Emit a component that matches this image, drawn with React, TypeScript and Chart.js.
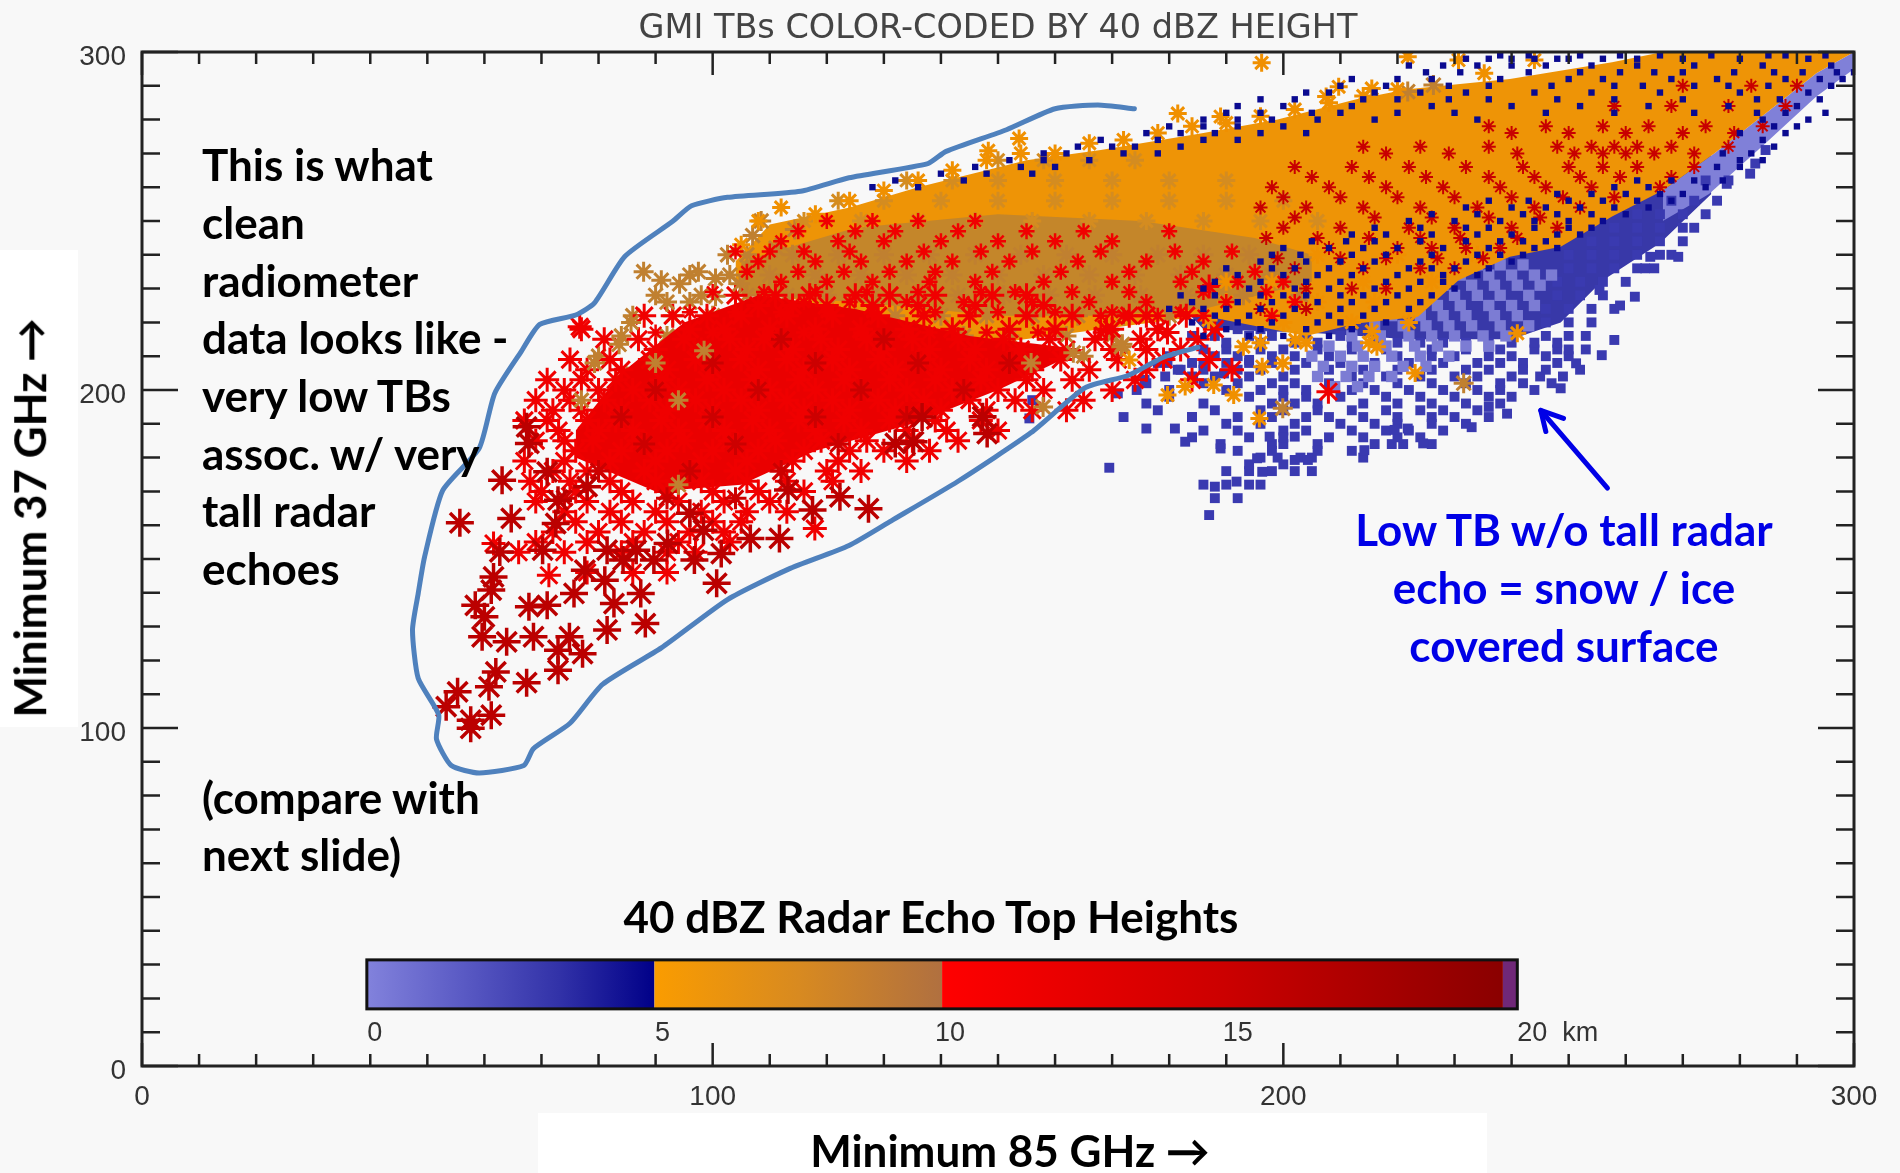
import React, { useEffect, useRef } from "react";
import { Chart, registerables } from "chart.js";

Chart.register(...registerables);

// ---- axis values (brightness temperatures, K) ----
const xTicksMajor = [0, 100, 200, 300];
const axisMin = 0;
const axisMax = 300;
const axisStep = 10;

// ---- hand outline round the clean radiometer points [85 GHz, 37 GHz] ----
const outline = [[173.9,283.2],[167.5,284.3],[160,283.2],[151.5,277],[140.9,270.6],[137.7,267],[123.9,262.8],[115.4,258.8],[102.6,257],[96.3,254.5],[93,249.9],[84.6,239.5],[79.3,225.8],[76,222.2],[69.7,219.4],[66.5,211.5],[61.8,199],[59.1,182.8],[52.7,170.3],[49.5,150.5],[48.4,139.8],[47.4,129],[48.4,114.7],[52,103.9],[51.6,96.7],[54.2,88.9],[59.1,86.7],[66.9,88.9],[68.6,93.9],[75,101.4],[80.7,112.9],[91,123.7],[102.6,138],[113.3,147],[123.9,154],[131.3,161.3],[143,173],[155.8,187.4],[165.3,200.7],[172.8,204.3],[179,209.7],[185,212.6]];
const arrowShaft = [[256.8,171],[245.1,194]];
const arrowHead = [[249.1,191.6],[245.1,194],[246,187.7]];

// ---- dense regions, as upper and lower edges [85 GHz, 37 GHz] ----
const blueUpper = [[182,232],[204,240],[224,250],[240,262],[258,270],[275,282]];
const blueLower = [[182,225],[186,218],[204,217],[222,215],[240,215],[248.6,220],[256,232.5],[266,243.4],[275,258]];
const lightUpper = [[266.5,259],[275.5,270],[284.5,281.8],[293.4,293.7],[300,300]];
const lightLower = [[266.5,250],[274.6,258],[284.5,273],[293.4,286.8],[300,295]];
const orangeUpper = [[104,238],[110,249],[124,254],[136,260],[155,268],[168,271],[186,276],[199,280],[212.8,286],[221.8,289],[239.7,292],[257.6,297],[266.5,300],[300,300]];
const orangeLower = [[104,232],[124,222],[150,214],[168,218],[186,222],[204,216],[212.8,219.7],[223.6,221.7],[230.7,232.5],[239.7,239.4],[248.6,242.4],[257.6,251.3],[266.5,259],[275.5,270],[284.5,281.8],[293.4,293.7],[300,300]];
const brownUpper = [[105,238],[125,248],[150,252],[175,250],[195,245],[205,240]];
const brownLower = [[105,228],[125,226],[150,222],[168,222],[186,224],[205,232]];
const redUpper = [[76,188],[84,205],[95,220],[108,228],[125,224],[145,216],[165,212]];
const redLower = [[76,180],[90,170],[105,172],[118,182],[135,190],[150,200],[165,212]];

// ---- rows of points: [37 GHz, then the 85 GHz values on that row] ----
const lightBlueRows = [
  [237,234,238,242],[234,231,236,240,244,247],[231,228,233,237,241,245],[228,226,230,234,238,243],
  [225,223,227,231,236,240,244],[222,219,224,228,232,237,241],[219,216,221,225,229,233,238,243],
  [216,212,217,222,226,230,235,239],[213,208,213,218,223,227,232,236],[210,205,210,214,219,224,229],
  [207,207,212,216,221,225],[204,206,211,215,219],[201,209,213],
];
const blueRows = [
  [218,188,192,196],
  [212,186,190,196,200,206,212,218,226,232,238,244,248],
  [208,178,184,190,194,198,204,210,216,222,228,234,238,242,248],
  [204,184,188,194,200,206,212,218,224,230,234,240,245,249],
  [200,180,190,196,200,204,212,216,222,228,234,238,244],
  [196,176,186,198,202,206,214,220,226,232,238],
  [192,172,184,192,198,204,208,214,220,226,230,236],
  [188,186,192,200,204,212,218,222,228],
  [184,189,198,200,206,216,219,221,226],
  [180,196,199,203,205,214],
  [176,190,194,198,202,205],
  [172,186,190,194,196],
  [168,188,192],
  [163,187],
  [216,184,188,194,198,204,210],
  [214,190,196,202,206,212,216,220,224,228,232,236,240,244,248],
  [210,180,188,192,198,202,208,214,220,226,230,236,240,246,250],
  [206,182,186,192,196,202,208,214,220,226,232,236,242,246,252],
  [202,176,186,192,198,202,208,214,220,226,232,238,242,247],
  [198,180,194,200,204,210,218,224,230,236,240],
  [194,178,188,196,200,206,212,218,224,228,234],
  [190,190,196,202,210,216,220,226,232],
  [186,184,194,200,208,214,220,224],
  [182,192,198,206,212],
  [178,194,200],
  [262,274,278],[256,268,272,276],[252,262,266,270,274],[248,258,262,266,270,272],[244,254,258,262,266,270],
  [240,250,254,258,262,266,268],[236,250,254,258,262,265],[232,248,252,256,260],[228,248,252,256],
  [224,246,250,254,258],[220,246,250,254],[216,246,250,253],[212,250,253],
];
const bluePairs = [[169.5,177],[176,188.6],[181,188.6],[184,192],[189,182.7],[188,171.4],[191.8,172.9],[196.3,175.8],[202,179.3],[204.3,179.3],[195.4,179.8],[182.8,184.7],[197.6,186.2],[202,186.2],[214.2,182.2],[224.5,184.2],[219.5,188.2],[221.8,188.6],[233,189],[239.2,193],[236,195],[258,214.8],[255.8,210.3],[251.3,207.9],[248.6,200.5],[269.2,239.4],[263.4,236],[261.6,227.6],[259,225],[264.3,239.4],[277.7,261],[281.8,264],[282.7,267],[284.5,271],[255.4,229.6],[171,199],[174.3,200],[175.7,203],[179.3,204],[181.5,206],[184.2,203.4],[179.7,208],[186,208],[189.6,204.9],[194,208.9],[156,197],[155.5,191.6]];
const navyRows = [
  [298,232,236,240,244,248,250,256,262,270,280,292],
  [296,222,228,234,240,246,254,262,272,284,296],
  [292,212,220,226,238,250,256,268,276,288,294,298],
  [288,204,208,216,224,232,244,254,266,280,292],
  [284,192,200,212,226,240,252,264,278,290],
  [280,186,192,198,206,216,234,284,292],
  [276,176,182,188,196,204,280,288],
  [272,164,170,174,182,286],
  [268,152,158,166,280,284],
  [264,140,148,156],
  [260,128,136],
  [262,262,268,272],
  [258,248,254,260,266,270],
  [254,232,240,246,252,258,264],
  [250,222,230,238,244,250,256],
  [246,212,218,226,234,240,248,252],
  [242,200,208,214,220,228,236,244,248],
  [238,196,204,210,216,224,232,240],
  [234,192,200,206,212,220,228,234],
  [230,186,194,202,208,216,222,230],
  [226,184,192,198,206,212,218,224],
  [222,188,194,200,208,214],
  [218,190,196,204,212],
  [299,238,243,252,259,266,275,285,288,295],
  [294,225,231,243,252,259,265,270,279,286,291,297,300],
  [290,210,218,229,236,247,258,263,272,278,285,296],
  [286,196,202,214,220,229,236,248,258,270,283,287,294],
  [282,190,196,205,210,220,230,246,258,272,283,288,295],
  [278,180,186,192,200,286,290],
  [274,168,178,186,192,284],
  [270,158,162,172,178,277,282],
  [266,146,154,160,276,280],
  [262,132,144,277],
  [260,258,264,274],
  [256,236,243,250,256,262,268],
  [252,226,234,242,248,254,260],
  [248,216,224,232,236,244,250,254],
  [244,205,211,216,224,232,238,242,246],
  [240,198,203,212,218,226,234,238,242],
  [236,190,198,202,208,214,222,226,230,236],
  [232,188,196,204,210,218,224,228],
  [228,182,188,196,200,204,210,214,220,226],
  [224,180,186,190,196,202,210,216,222],
  [220,184,192,198,206,210,218],
  [216,186,194,200,208],
];
const redRows = [
  [225,108,114,120,128,136,146,158],
  [218,77,96,102,110,118,126,134,142,152,160,170,178,188],
  [212,90,98,106,114,122,130,138,146,154,162,170,182,176],
  [206,78,84,92,100,108,116,124,132,140,148,156,166,176,191],
  [200,74,80,86,94,102,110,118,126,134,142,150,158,170],
  [194,72,77,84,92,100,108,116,124,132,140,148,156,162],
  [188,73,80,86,94,102,110,118,126,134,141,150],
  [182,76,84,92,100,108,116,124,130,138],
  [176,72,78,88,96,104,112,120,126],
  [170,70,76,84,92,100,108,116],
  [164,74,82,90,98,106,113],
  [158,72,80,88,96,102],
  [152,66,74,84,92,97],
  [146,78,86,92],
  [228,104,111,117,125,131,139,149,155],
  [222,88,93,99,105,113,121,129,137,145,155,163,173,183],
  [215,81,87,95,103,109,119,127,135,143,151,159,167,175,185],
  [209,75,82,89,97,105,113,121,129,137,145,153,161,171,179,187],
  [203,71,77,83,91,99,107,115,123,131,139,147,155,163,174,184],
  [197,69,75,81,89,97,105,113,121,129,137,145,153,165],
  [191,67,71,78,83,91,99,107,115,123,131,139,147],
  [185,69,74,79,87,95,103,111,119,127,135,143],
  [179,67,74,82,90,98,106,114,122,134],
  [173,68,75,82,90,98,106,113,121],
  [167,69,78,86,94,102,110],
  [161,76,84,92,100,105],
  [155,69,78,86,94,103],
];
const redPairs = [[76.7,218.7],[61.6,154.6],[71.3,145.2],[117.9,159],[176,222],[179.7,217],[187,230.6],[169,218],[207.9,199.5]];
const midRedRows = [[215,112,130],[208,100,118,136,152],[200,90,108,126,144],[192,84,100,118,134],[184,88,104,122],[176,80,96,112],[168,74,92,104]];
const darkRedPairs = [[55.7,160.7],[63.1,173.3],[64.7,162],[67.8,184.2],[67.4,189.1],[62.7,152.1],[70.2,152.6],[71,175.8],[72.9,167.4],[72.5,160.5],[78,171.4],[81.5,152.6],[84.3,149.7],[86.6,152.6],[77.6,146.7],[61.6,144.7],[61.2,140.8],[58.4,136.3],[60,132.9],[59.6,127],[63.9,125.5],[67.8,135.9],[71,136.3],[68.6,127],[74.9,127],[75.7,139.8],[81.1,143.7],[82.7,136.8],[81.5,129],[87.4,139.8],[88.2,130.9],[72.9,123],[77.2,122],[72.9,117.1],[62,116.6],[60.8,112.2],[67.4,113.4],[55.3,110.7],[53.3,106.3],[61.2,103.8],[57.6,99.9],[57.6,102.3],[100.7,142.8],[101.5,151.6],[106.6,156.1],[111.7,156.1],[96.8,149.7],[92.1,154.6],[96,163.5],[98.4,158.5],[89.7,149.7],[127.3,164.9],[117.5,164.5],[122.3,168.4],[113.2,170.4],[132,184.2],[135.2,184.7],[148.1,187.1],[147.3,192.1],[136.7,192]];
const brownPairs = [[100.5,233],[79.3,208],[83.6,213.5],[87.9,235],[94.2,231.4],[85.7,220],[102.6,240],[97.5,235],[91,232.5],[107,245.7],[108.5,250],[92,226],[96,226],[100.5,227.7],[104.8,231.4],[111.1,242],[114.4,247.5],[155.8,208],[157.9,195],[171.8,213.5],[163.2,211],[77,197],[90,208],[94,197],[98.5,211.6],[94,172],[171.6,212.8],[199.9,194.6],[231.6,202],[226.3,290.2],[221.8,288.3]];
const brownRows = [
  [240,106,114,122,130,138,146,154,162,170,178,186,194],
  [234,96,103,110,118,126,134,142,150,158,166,174,182,190,198],
  [228,90,98,106,113,120,128,136,143,151,159,167,175,183,193,203],
  [222,86,93,100,108,116,124,132,140,148,156,164,172,180],
  [216,84,92,102,112,122,132,144,152,162,170],
  [210,80,95,108,128,150,165],
  [204,85,115,145],
];
const tanRows = [
  [268,150,158,166,174],[262,134,142,150,160,170,180,190],[256,122,130,140,150,160,170,180,190,200],
  [250,116,126,136,146,156,166,176,186,196,206],
];
const orangePairs = [[196.2,296.8],[148.3,270.8],[153.7,274.4],[181.5,281.8],[189,280.9],[207.5,286.8],[209.7,289.7],[215.5,289.2],[221.8,298.6],[230.7,297.6],[244,297.6],[235.2,293.7],[186.9,220.7],[173,208.9],[179.7,198.5],[182.8,201],[187.8,201.5],[191.3,198.5],[196.3,206.9],[195.8,191.6],[199.9,207.9],[202.1,214.8],[215.5,217.3],[193,212.8],[223.1,205],[241,216.8],[216.4,212.8],[105,243],[108,250],[112,254],[118,252],[124,256],[130,259],[136,262],[142,265],[148,268],[154,270],[160,270],[166,273],[172,274],[178,276],[184,278],[190,279],[196,281],[202,283],[208,285],[214,287],[220,289]];
const orangeRows = [[240,206,220,234],[232,190,198,214,226],[226,190,206,216],[220,200,212,222],[214,196,204,215]];
const redSpeckRows = [
  [250,120,128,136,146],[244,112,122,130,140,150,160,170],[238,108,118,126,134,142,152,164,176,186],
  [232,112,120,128,138,146,158,170,182,192,200],[226,116,124,134,144,156,166,176,190,202],[222,168,172,178,186,198],
  [247,115,125,132,143,155,165,180],[241,104,110,116,124,137,147,156,168,181,191],[235,106,115,123,131,139,149,161,173,184,195],
  [229,100,109,118,127,136,147,153,163,173,186,197],[223,96,104,112,120,128,139,150,160,170,182],
  [217,90,100,110,116,126,138,148,157,168],
];
const darkSpeckRows = [
  [290,270,282,290],[284,258,268,278,288],[278,236,246,256,264,274,284],[272,214,224,236,248,254,258,262,268,278],
  [266,202,212,222,232,242,250,256,262,272],[260,198,208,218,228,238,246,254,266],[254,196,204,214,224,234,244,252],
  [248,200,210,222,230,240,248],[242,208,220,226,232,238],[236,202,214,224,230],[230,204,212,218],[224,196,204],
  [276,240,250,260,270,279],[270,218,229,241,251,256,260,265,272],[263,205,215,225,236,244,252,259,268],
  [257,200,210,220,230,240,249,258],[251,202,216,226,236,245],[245,197,206,215,224,231,241],[239,199,210,218,227,235],
];

// ---- colour bar ----
const barKmStart = 0;
const barKmEnd = 20;
const barKmLabels = ["0", "5", "10", "15"];
const barLastLabel = "20  km";

// ---- text ----
const leftNote = ["This is what", "clean", "radiometer", "data looks like -", "very low TBs", "assoc. w/ very", "tall radar", "echoes"];
const leftNote2 = ["(compare with", "next slide)"];
const blueNote = ["Low TB w/o tall radar", "echo = snow / ice", "covered surface"];
const titleText = "GMI TBs COLOR-CODED BY 40 dBZ HEIGHT";

const toXY = (a: number[][]) => a.map(([x, y]) => ({ x, y }));
const rowsXY = (rows: number[][]) => rows.flatMap(([y, ...xs]) => xs.map((x) => ({ x, y })));

const LAB = "Lato, 'Open Sans', sans-serif";

const band = (label: string, up: number[][], low: number[][], color: string) => [
  { label, data: toXY(up), showLine: true, fill: "+1", backgroundColor: color, borderWidth: 0, pointRadius: 0, borderColor: "transparent" },
  { label: label + " edge", data: toXY(low), showLine: true, fill: false, borderWidth: 0, pointRadius: 0, borderColor: "transparent" },
];
const squares = (label: string, data: any[], color: string, r: number) => ({
  label, data, pointStyle: "rect", pointRadius: r, pointBorderWidth: 0, pointBackgroundColor: color, pointBorderColor: color, showLine: false,
});
const stars = (label: string, data: any[], color: string, r: number, w: number) => ({
  label, data, pointStyle: "star", pointRadius: r, pointBorderWidth: w, pointBackgroundColor: color, pointBorderColor: color, showLine: false,
});
const stroke = (label: string, data: number[][], color: string, w: number, tension = 0) => ({
  label, data: toXY(data), showLine: true, fill: false, borderColor: color, borderWidth: w, pointRadius: 0, tension, borderJoinStyle: "round", borderCapStyle: "round",
});

const frame = {
  id: "frame",
  afterDraw(chart: any) {
    const { ctx, chartArea: a, scales } = chart;
    const X = scales.x, Y = scales.y;
    ctx.save();
    ctx.strokeStyle = "#222";
    ctx.lineWidth = 3;
    ctx.strokeRect(a.left, a.top, a.right - a.left, a.bottom - a.top);
    ctx.lineWidth = 2.5;
    ctx.beginPath();
    X.ticks.forEach((t: any) => {
      const p = X.getPixelForValue(t.value);
      const len = xTicksMajor.includes(t.value) ? 23 : 12;
      ctx.moveTo(p, a.bottom); ctx.lineTo(p, a.bottom - len);
      ctx.moveTo(p, a.top); ctx.lineTo(p, a.top + len);
    });
    Y.ticks.forEach((t: any) => {
      const p = Y.getPixelForValue(t.value);
      const len = xTicksMajor.includes(t.value) ? 36 : 18;
      ctx.moveTo(a.left, p); ctx.lineTo(a.left + len, p);
      ctx.moveTo(a.right, p); ctx.lineTo(a.right - len, p);
    });
    ctx.stroke();

    // colour bar: km scale laid onto the x scale, as in the figure
    const kmToPx = (km: number) => X.getPixelForValue(39.4 + km * 10.08);
    const top = Y.getPixelForValue(31.4), bot = Y.getPixelForValue(16.9);
    const grad = (k0: number, k1: number, stops: string[]) => {
      const g = ctx.createLinearGradient(kmToPx(k0), 0, kmToPx(k1), 0);
      stops.forEach((c, i) => g.addColorStop(i / (stops.length - 1), c));
      ctx.fillStyle = g;
      ctx.fillRect(kmToPx(k0), top, kmToPx(k1) - kmToPx(k0), bot - top);
    };
    grad(barKmStart, 5, ["#8282dc", "#5a5ac4", "#3232a8", "#000088"]);
    grad(5, 10, ["#fa9c00", "#d88a20", "#b07040"]);
    grad(10, 19.75, ["#ff0000", "#cc0000", "#8a0000"]);
    grad(19.75, barKmEnd, ["#702878", "#702878"]);
    ctx.strokeStyle = "#111";
    ctx.lineWidth = 3;
    ctx.strokeRect(kmToPx(barKmStart), top, kmToPx(barKmEnd) - kmToPx(barKmStart), bot - top);
    ctx.fillStyle = "#333";
    ctx.font = "27px 'Liberation Sans'";
    ctx.textAlign = "center";
    ctx.textBaseline = "middle";
    barKmLabels.forEach((l, i) => ctx.fillText(l, kmToPx(i * 5) + 8, 1034));
    ctx.textAlign = "left";
    ctx.fillText(barLastLabel, kmToPx(barKmEnd), 1034);
    ctx.restore();
  },
};

const textLine = (s: string, left: number, cy: number, color = "#000", size = 44): React.CSSProperties => ({
  position: "absolute", left, top: cy - size * 0.7, font: `700 ${size}px/${size * 1.4}px ${LAB}`, color, whiteSpace: "pre",
});

export default function App() {
  const ref = useRef<HTMLCanvasElement>(null);
  useEffect(() => {
    document.body.style.margin = "0";
    const datasets: any[] = [
      ...band("Snow / ice region", blueUpper, blueLower, "#3838a8"),
      ...band("Edge strip", lightUpper, lightLower, "#8080d8"),
      squares("2-4 km echo tops", [...rowsXY(blueRows), ...toXY(bluePairs)], "#3a3ab0", 7),
      squares("0-2 km echo tops", rowsXY(lightBlueRows), "#7c7cd4", 8),
      ...band("5-8 km echo tops", orangeUpper, orangeLower, "#ee9406"),
      ...band("8-10 km echo tops", brownUpper, brownLower, "#c4862a"),
      stars("8-10 km dense stars", rowsXY(brownRows), "#c08030", 10, 3),
      ...band("10-12 km echo tops", redUpper, redLower, "#ea0000"),
      stars("10-14 km echo tops", [...rowsXY(redRows), ...toXY(redPairs)], "#f00000", 12, 3),
      stars("12-14 km echo tops", rowsXY(midRedRows), "#cc0000", 11, 3),
      stars("14-19 km echo tops", toXY(darkRedPairs), "#bb0000", 14, 3.5),
      stars("8-10 km stars", toXY(brownPairs), "#c08030", 10, 3),
      stars("Tan stars", rowsXY(tanRows), "#d48c20", 9, 3),
      stars("5-8 km stars", [...toXY(orangePairs), ...rowsXY(orangeRows)], "#f09000", 9, 3),
      stars("Red specks", rowsXY(redSpeckRows), "#f00000", 8, 2.5),
      stars("Dark red specks", rowsXY(darkSpeckRows), "#c80000", 7, 2),
      squares("4-5 km echo tops", rowsXY(navyRows), "#0a0a90", 4.5),
      stroke("Outline", outline, "#4f81bd", 5, 0.2),
      stroke("Arrow shaft", arrowShaft, "#0000e6", 5),
      stroke("Arrow head", arrowHead, "#0000e6", 5),
    ];
    datasets.forEach((d, i) => (d.order = datasets.length - i));
    const chart = new Chart(ref.current!, {
      type: "scatter",
      data: { datasets },
      plugins: [frame],
      options: {
        responsive: false,
        animation: false,
        layout: { padding: { left: 0, right: 46, top: 0, bottom: 0 } },
        plugins: {
          legend: { display: false },
          tooltip: { enabled: false },
          title: {
            display: true, text: titleText, fullSize: false, color: "#444",
            font: { family: "'DejaVu Sans'", size: 33.5, weight: "normal", lineHeight: 1 },
            padding: { top: 13, bottom: 5.5 },
          },
        },
        scales: {
          x: {
            type: "linear", min: axisMin, max: axisMax,
            afterFit: (s: any) => { s.height = 107; },
            grid: { display: false },
            border: { display: false },
            ticks: {
              stepSize: axisStep, autoSkip: false, maxRotation: 0, padding: 6, color: "#333",
              font: { family: "'Liberation Sans'", size: 28 },
              callback: (v: any) => (xTicksMajor.includes(v) ? String(v) : ""),
            },
          },
          y: {
            type: "linear", min: axisMin, max: axisMax,
            afterFit: (s: any) => { s.width = 142; },
            grid: { display: false },
            border: { display: false },
            ticks: {
              stepSize: axisStep, autoSkip: false, padding: 8, color: "#333", labelOffset: 5,
              font: { family: "'Liberation Sans'", size: 28 },
              callback: (v: any) => (xTicksMajor.includes(v) ? String(v) : ""),
            },
          },
        },
      },
    } as any);
    return () => chart.destroy();
  }, []);
  return (
    <div style={{ position: "absolute", left: 0, top: 0, width: 1900, height: 1173, overflow: "hidden", background: "#f8f8f8" }}>
      <div style={{ position: "absolute", left: 0, top: 250, width: 78, height: 477, background: "#fff" }} />
      <div style={{ position: "absolute", left: 538, top: 1113, width: 949, height: 60, background: "#fff" }} />
      <canvas ref={ref} width={1900} height={1173} style={{ position: "absolute", left: 0, top: 0 }} />
      {leftNote.map((s, i) => <div key={s} style={textLine(s, 202, 165 + i * 57.7)}>{s}</div>)}
      {leftNote2.map((s, i) => <div key={s} style={textLine(s, 202, 798 + i * 57)}>{s}</div>)}
      {blueNote.map((s, i) => (
        <div key={s} style={{ ...textLine(s, 1264, 530 + i * 57.7, "#0000e6"), width: 600, textAlign: "center" }}>{s}</div>
      ))}
      <div style={{ ...textLine("40 dBZ Radar Echo Top Heights", 531, 917), width: 800, textAlign: "center" }}>40 dBZ Radar Echo Top Heights</div>
      <div style={{ ...textLine("Minimum 85 GHz →", 610, 1151), width: 800, textAlign: "center" }}>Minimum 85 GHz →</div>
      <div style={{ ...textLine("Minimum 37 GHz →", -370, 518), width: 800, textAlign: "center", transform: "rotate(-90deg)" }}>Minimum 37 GHz →</div>
    </div>
  );
}
